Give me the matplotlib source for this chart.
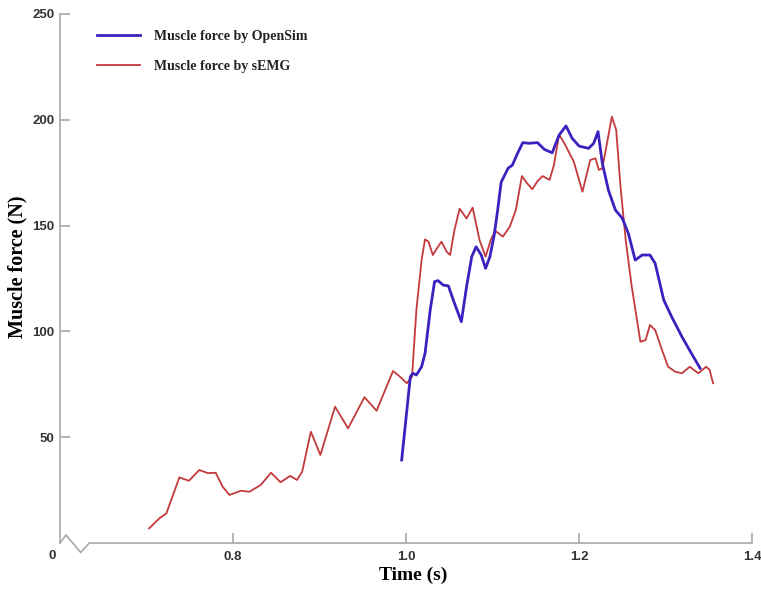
import numpy as np
import matplotlib
matplotlib.use('Agg')
import matplotlib.pyplot as plt

# values
semg_t = [0.703, 0.715, 0.723, 0.738, 0.749, 0.761, 0.771, 0.780, 0.788, 0.796,
          0.809, 0.819, 0.832, 0.844, 0.855, 0.866, 0.874, 0.880, 0.890, 0.901,
          0.918, 0.933, 0.952, 0.966, 0.985, 0.993, 1.001, 1.007, 1.012, 1.018,
          1.022, 1.026, 1.031, 1.037, 1.041, 1.047, 1.051, 1.056, 1.062, 1.070,
          1.077, 1.085, 1.092, 1.098, 1.103, 1.112, 1.120, 1.127, 1.134, 1.140,
          1.146, 1.152, 1.158, 1.166, 1.171, 1.177, 1.183, 1.189, 1.194, 1.204,
          1.213, 1.219, 1.223, 1.227, 1.233, 1.238, 1.243, 1.248, 1.254, 1.261,
          1.271, 1.277, 1.282, 1.288, 1.296, 1.303, 1.311, 1.319, 1.328, 1.338,
          1.347, 1.351, 1.355]
semg_force = [6.9, 11.7, 14.0, 31.0, 29.4, 34.5, 33.0, 33.2, 26.6, 22.7,
              24.7, 24.2, 27.4, 33.2, 28.7, 31.7, 29.8, 33.7, 52.6, 41.6,
              64.4, 54.2, 68.9, 62.5, 81.3, 78.6, 75.5, 78.6, 110.1, 133.7,
              143.5, 142.4, 136.1, 140.0, 142.4, 137.7, 136.1, 147.9, 158.0, 153.4,
              158.5, 143.2, 135.3, 143.2, 147.6, 144.8, 149.5, 157.4, 173.4, 170.0,
              167.2, 171.0, 173.4, 171.6, 178.6, 193.0, 188.9, 184.2, 180.2, 166.0,
              181.0, 181.8, 176.3, 177.1, 190.4, 201.5, 195.2, 168.4, 143.2, 121.1,
              95.1, 95.9, 103.0, 100.7, 91.2, 83.3, 81.0, 80.2, 83.3, 80.2,
              83.3, 81.8, 75.5]

osim_t = [0.995, 1.001, 1.005, 1.008, 1.012, 1.018, 1.022, 1.028, 1.033, 1.037,
          1.043, 1.049, 1.056, 1.064, 1.070, 1.076, 1.081, 1.087, 1.092, 1.097,
          1.102, 1.106, 1.110, 1.118, 1.123, 1.129, 1.135, 1.142, 1.152, 1.160,
          1.169, 1.177, 1.185, 1.192, 1.200, 1.211, 1.217, 1.222, 1.227, 1.234,
          1.242, 1.250, 1.257, 1.265, 1.273, 1.282, 1.288, 1.298, 1.307, 1.319,
          1.330, 1.340]
osim_force = [39.2, 62.8, 78.6, 80.2, 79.4, 83.3, 89.6, 110.1, 123.5, 124.0,
              121.9, 121.5, 113.3, 104.6, 121.1, 135.3, 140.0, 136.1, 129.8, 135.3,
              145.6, 157.4, 170.5, 177.1, 178.6, 184.2, 189.2, 188.9, 189.2, 186.0,
              184.4, 192.8, 197.1, 191.3, 187.6, 186.5, 188.9, 194.4, 179.4, 166.8,
              157.4, 153.5, 146.4, 133.7, 136.1, 136.1, 132.2, 114.8, 107.0, 97.5,
              89.6, 82.6]

xticks = [0.8, 1.0, 1.2, 1.4]
yticks = [50, 100, 150, 200, 250]

serif = 'Liberation Serif'
sans = 'Liberation Sans'
axis_grey = '#a8a8a8'

fig = plt.figure(figsize=(7.61, 5.89), dpi=100)
ax = fig.add_axes([60/761, 1 - 543/589, 692/761, 529/589])

ax.plot(osim_t, osim_force, color='#3b22bf', lw=2.0, solid_joinstyle='round',
        label='Muscle force by OpenSim', zorder=3)
ax.plot(semg_t, semg_force, color='#c33a3c', lw=1.3, solid_joinstyle='round',
        label='Muscle force by sEMG', zorder=2)

ax.set_xlim(0.6, 1.4)
ax.set_ylim(0, 250)
ax.set_xticks(xticks)
ax.set_xticklabels(['%.1f' % v for v in xticks])
ax.set_yticks(yticks)

for s in ['top', 'right', 'bottom']:
    ax.spines[s].set_visible(False)
ax.spines['left'].set_color(axis_grey)
ax.spines['left'].set_linewidth(1.2)

# x axis with the break mark near the origin
ax.plot([0, 0.0087, 0.0299, 0.0423, 1.0], [0, 0.015, -0.018, 0, 0],
        transform=ax.transAxes, color=axis_grey, lw=1.2, clip_on=False,
        solid_joinstyle='miter')

ax.tick_params(direction='in', length=7, width=1.2, color=axis_grey,
               labelsize=9.5, labelcolor='#333333')
ax.tick_params(axis='x', pad=6)
ax.tick_params(axis='y', pad=4)
for lab in ax.get_xticklabels() + ax.get_yticklabels():
    lab.set_fontfamily(sans)
    lab.set_fontweight('bold')

ax.text(-0.0115, -0.024, '0', transform=ax.transAxes, ha='center', va='center',
        fontsize=9.5, fontweight='bold', family=sans, color='#333333')

ax.set_xlabel('Time (s)', fontsize=14, fontweight='bold', family=serif, va='center')
ax.xaxis.set_label_coords(0.510, -0.0605)
ax.set_ylabel('Muscle force (N)', fontsize=14.5, fontweight='bold', family=serif, va='center')
ax.yaxis.set_label_coords(-0.0614, 0.522)

leg = ax.legend(loc='upper left', bbox_to_anchor=(0.044, 0.983), frameon=False,
                borderpad=0, handlelength=3.1, handletextpad=1.0, labelspacing=1.2,
                prop={'family': serif, 'size': 10, 'weight': 'bold'})
for txt in leg.get_texts():
    txt.set_color('#222222')

fig.savefig('out.png', dpi=100)
